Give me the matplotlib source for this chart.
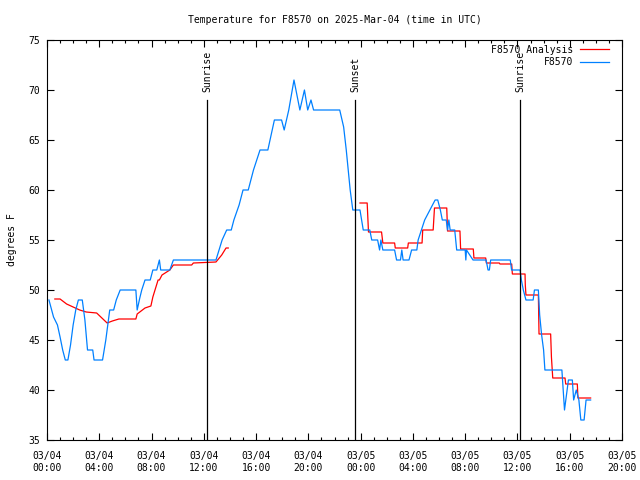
#!/usr/bin/python

# Temperature plot for F8570, gnuplot-like look

import numpy as np
import matplotlib
matplotlib.use("Agg")
import matplotlib.pyplot as plt
from matplotlib.ticker import MultipleLocator

#################################
# data (hours after 03/04 00:00 UTC, degrees F)
#################################

obs_hours = [0.15, 0.5, 0.8, 1.0, 1.2, 1.4, 1.6, 1.8, 2.0, 2.2, 2.4, 2.7, 2.9, 3.1,
             3.5, 3.6, 4.25, 4.5, 4.8, 5.1, 5.3, 5.6, 6.8, 6.9, 7.1, 7.25, 7.5, 7.9,
             8.1, 8.4, 8.6, 8.7, 9.4, 9.67, 12.93, 13.4, 13.75, 14.1, 14.3, 14.7,
             15.0, 15.4, 15.8, 16.3, 16.9, 17.4, 17.95, 18.15, 18.5, 18.9, 19.35,
             19.7, 19.95, 20.2, 20.4, 22.4, 22.7, 22.9, 23.05, 23.2, 23.4, 23.95,
             24.2, 24.7, 24.85, 25.3, 25.45, 25.55, 25.7, 26.6, 26.75, 27.05, 27.15,
             27.25, 27.7, 27.9, 28.3, 28.4, 28.9, 29.3, 29.7, 29.9, 30.1, 30.25,
             30.55, 30.65, 30.75, 30.85, 31.2, 31.35, 32.0, 32.05, 32.1, 32.6, 33.6,
             33.75, 33.85, 33.95, 35.45, 35.55, 36.2, 36.3, 36.45, 36.65, 37.2, 37.3,
             37.6, 37.7, 37.85, 38.0, 38.1, 39.4, 39.6, 39.75, 39.9, 40.2, 40.3,
             40.5, 40.7, 40.85, 41.1, 41.25, 41.6]
obs_temp = [49, 47.3, 46.5, 45.3, 44, 43, 43, 44.5, 46.5, 48, 49, 49, 47, 44,
            44, 43, 43, 45, 48, 48, 49, 50, 50, 48, 49.2, 50, 51, 51,
            52, 52, 53, 52, 52, 53, 53, 55, 56, 56, 57, 58.5,
            60, 60, 62, 64, 64, 67, 67, 66, 68, 71, 68,
            70, 68, 69, 68, 68, 66.3, 64, 62, 60, 58, 58,
            56, 56, 55, 55, 54, 55, 54, 54, 53, 53, 54,
            53, 53, 54, 54, 55, 57, 58, 59, 59, 58, 57,
            57, 56, 57, 56, 56, 54, 54, 53, 54, 53, 53,
            52, 52, 53, 53, 52, 52, 51, 50, 49, 49, 50,
            50, 47.5, 45.5, 44, 42, 42, 38, 39.5, 41, 41, 39,
            40, 39, 37, 37, 39, 39]

ana_hours = [0.6, 1.0, 1.5, 2.0, 2.5, 3.0, 3.8, 4.6, 5.0, 5.5, 6.8, 6.9, 7.5, 7.95,
             8.1, 8.5, 8.6, 8.8, 9.4, 9.67, 11.07, 11.2, 12.93, 13.37, 13.7, 13.87,
             18.0,
             23.95, 24.5, 24.6, 25.6, 25.7, 26.6, 26.65, 27.6, 27.65, 28.7, 28.75,
             29.55, 29.65, 30.59, 30.65, 31.6, 31.65, 32.62, 32.67, 33.57, 33.62,
             34.61, 34.66, 35.56, 35.61, 36.58, 36.6, 36.65, 37.6, 37.65, 38.54,
             38.6, 38.7, 39.64, 39.69, 40.58, 40.63, 41.6]
ana_temp = [49.1, 49.1, 48.6, 48.3, 48.0, 47.8, 47.7, 46.7, 46.9, 47.1, 47.1, 47.6, 48.2, 48.4,
            49.3, 51, 51, 51.5, 52, 52.5, 52.5, 52.7, 52.8, 53.5, 54.2, 54.2,
            np.nan,
            58.7, 58.7, 55.8, 55.8, 54.7, 54.7, 54.2, 54.2, 54.7, 54.7, 56,
            56, 58.2, 58.2, 55.9, 55.9, 54.1, 54.1, 53.2, 53.2, 52.7,
            52.7, 52.6, 52.6, 51.6, 51.6, 50.5, 49.5, 49.5, 45.6, 45.6,
            43.3, 41.2, 41.2, 40.6, 40.6, 39.2, 39.2]

sun_hours = [12.27, 23.57, 36.2]
sun_labels = ["Sunrise", "Sunset", "Sunrise"]

xtick_hours = [0, 4, 8, 12, 16, 20, 24, 28, 32, 36, 40, 44]
xtick_labels = ["03/04\n00:00", "03/04\n04:00", "03/04\n08:00", "03/04\n12:00",
                "03/04\n16:00", "03/04\n20:00", "03/05\n00:00", "03/05\n04:00",
                "03/05\n08:00", "03/05\n12:00", "03/05\n16:00", "03/05\n20:00"]

####################
# plot
####################
outputfile = "out.png"

fname = "DejaVu Sans Mono"
fsize = 7
plt.rcParams["font.family"] = fname
plt.rcParams["font.size"] = fsize

fig = plt.figure(figsize=(6.4, 4.8), dpi=100)
ax = fig.add_axes([47 / 640, 1 - 440 / 480, 575 / 640, 400 / 480])

ax.plot(ana_hours, ana_temp, color="#ff0000", lw=0.9, label="F8570 Analysis")
ax.plot(obs_hours, obs_temp, color="#0080ff", lw=0.9, label="F8570")

for h, name in zip(sun_hours, sun_labels):
    ax.plot([h, h], [35, 69], color="black", lw=0.9)
    ax.text(h, 69.8, name, rotation=90, ha="center", va="bottom", fontsize=fsize)

ax.set_xlim(0, 44)
ax.set_ylim(35, 75)
ax.set_xticks(xtick_hours)
ax.set_xticklabels(xtick_labels)
ax.xaxis.set_minor_locator(MultipleLocator(1))
ax.yaxis.set_major_locator(MultipleLocator(5))
ax.tick_params(which="both", direction="in", top=True, right=True, width=0.8)
ax.tick_params(which="major", length=5, pad=5)
ax.tick_params(axis="x", which="major", pad=8)
ax.tick_params(which="minor", length=2.5)
for sp in ax.spines.values():
    sp.set_linewidth(0.8)

ax.set_ylabel("degrees F", fontsize=fsize, labelpad=8)
ax.set_title("Temperature for F8570 on 2025-Mar-04 (time in UTC)", fontsize=fsize, pad=12)

ax.legend(loc="upper right", frameon=False, markerfirst=False, fontsize=fsize,
          handlelength=2.9, handletextpad=0.7, labelspacing=0.25,
          borderaxespad=0.3, borderpad=0.2, bbox_to_anchor=(0.985, 1.0))

fig.savefig(outputfile, dpi=100)
